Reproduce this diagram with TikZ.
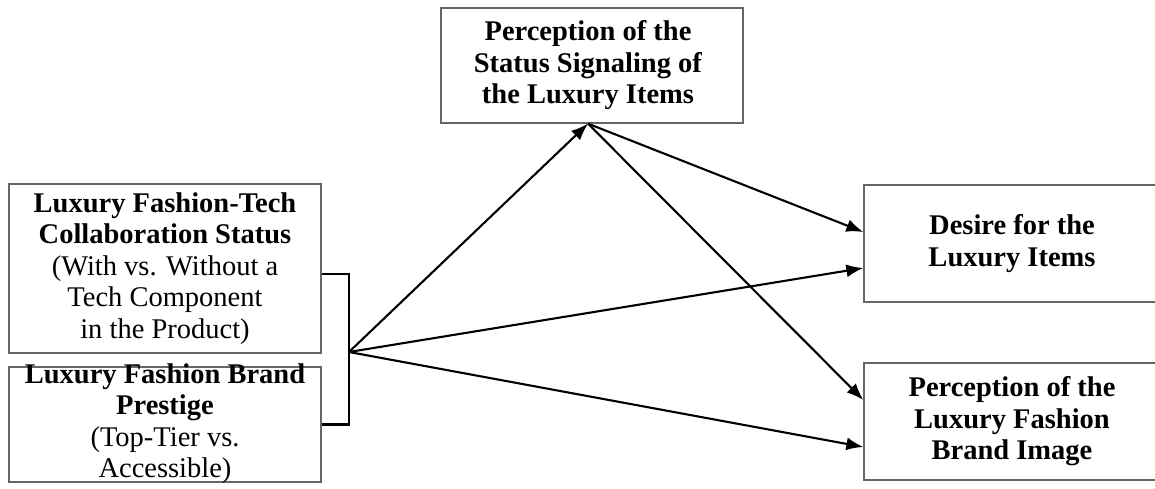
\documentclass[tikz,border=0pt]{standalone}
\usepackage{fontspec}
\setmainfont{Liberation Serif}
\usetikzlibrary{arrows.meta}

\begin{document}
\begin{tikzpicture}[x=1pt,y=-1pt,
	box/.style={rectangle,draw=black!60,line width=1.3pt,inner sep=0},
	txt/.style={align=center,font=\fontsize{28.5}{31.5}\selectfont,inner sep=0},
	path/.style={line width=2.1pt,-{Latex[length=17pt,width=13pt]}},
	bracket/.style={line width=2.1pt}]
	\clip (0,0) rectangle (1155,489);
	\node at (165,268.5) [box,minimum width=312,minimum height=169] (ftc) {};
	\node at (165,424.5) [box,minimum width=312,minimum height=115] (prestige) {};
	\node at (592,65.5) [box,minimum width=302,minimum height=115] (status) {};
	\node at (1012,243.5) [box,minimum width=296,minimum height=117] (desire) {};
	\node at (1012,421.5) [box,minimum width=296,minimum height=117] (image) {};
	\node at (ftc) [txt] (ftctext) {\textbf{Luxury Fashion-Tech}\\\textbf{Collaboration Status}\\(With vs. Without a\\Tech Component\\in the Product)};
	\node at ([yshift=1]prestige.center) [txt] (prestigetext) {\textbf{Luxury Fashion Brand}\\\textbf{Prestige}\\(Top-Tier vs.\\Accessible)};
	\node at ([xshift=-4]status.center) [txt] (statustext) {\textbf{Perception of the}\\\textbf{Status Signaling of}\\\textbf{the Luxury Items}};
	\node at (desire) [txt] (desiretext) {\textbf{Desire for the}\\\textbf{Luxury Items}};
	\node at (image) [txt] (imagetext) {\textbf{Perception of the}\\\textbf{Luxury Fashion}\\\textbf{Brand Image}};
	\coordinate (j) at (349,352);
	\draw [bracket] ([yshift=-5.5]ftc.east) -| (j) |- (prestige.east);
	\draw [path] (j) to ([xshift=-4]status.south);
	\draw [path] (j) to ([yshift=-24.5]desire.west);
	\draw [path] (j) to ([yshift=-25.5]image.west);
	\draw [path] ([xshift=-4]status.south) to ([yshift=11.5]desire.west);
	\draw [path] ([xshift=-4]status.south) to ([yshift=21.5]image.west);
\end{tikzpicture}
\end{document}
